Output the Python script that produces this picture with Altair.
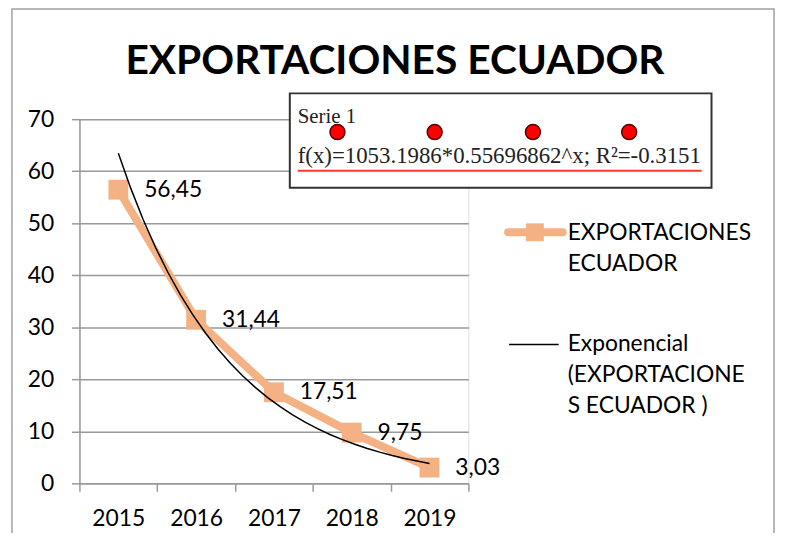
import altair as alt
import pandas as pd

# ---- data ----
years = [2015, 2016, 2017, 2018, 2019]
values = [56.45, 31.44, 17.51, 9.75, 3.03]
y_ticks = [0, 10, 20, 30, 40, 50, 60, 70]
title_text = "EXPORTACIONES ECUADOR"
series_name = "EXPORTACIONES\nECUADOR"
trend_name = "Exponencial\n(EXPORTACIONE\nS ECUADOR )"
inset_title = "Serie 1"
inset_formula = "f(x)=1053.1986*0.55696862^x; R²=-0.3151"

PEACH = "#F4B183"
GRAY = "#9a9a9a"
FONT = "Lato"
SERIF = "Liberation Serif"
FS = 23
W, H = 392, 367

df = pd.DataFrame({"year": years, "value": values})
one = pd.DataFrame({"k": [0]})

# category boundaries (ticks sit between the year categories)
bounds = [y - 0.5 for y in years] + [years[-1] + 0.5]

x_scale = alt.Scale(domain=[bounds[0], bounds[-1]], nice=False, zero=False)
x_axis = alt.Axis(title=None, values=bounds, grid=False, labelAngle=0,
                  labelExpr=f"datum.value < {years[-1]} ? format(datum.value + 0.5, 'd') : ''",
                  labelOffset=W / len(years) / 2, labelAlign="center",
                  domainColor=GRAY, domainWidth=1.5, tickColor=GRAY, tickWidth=1.5,
                  tickSize=8, labelPadding=16, labelFont=FONT, labelFontSize=FS,
                  labelColor="#000", labelFlush=False, labelOverlap=False)
y_scale = alt.Scale(domain=[0, 70], nice=False)
y_axis = alt.Axis(title=None, values=y_ticks, grid=True, gridColor=GRAY, gridWidth=1.5,
                  domainColor=GRAY, domainWidth=1.5, tickColor=GRAY, tickWidth=1.5,
                  tickSize=8, labelPadding=18, labelFont=FONT, labelFontSize=FS,
                  labelColor="#000")

# ---- main series ----
base = alt.Chart(df).encode(x=alt.X("year:Q", scale=x_scale, axis=x_axis),
                            y=alt.Y("value:Q", scale=y_scale, axis=y_axis))
line = base.mark_line(color=PEACH, strokeWidth=8, strokeJoin="round", strokeCap="round")
pts = base.mark_point(shape="square", size=400, filled=True, color=PEACH, opacity=1)
labels = base.transform_calculate(
    lab="replace(format(datum.value, '.2f'), '.', ',')"
).mark_text(align="left", baseline="middle", dx=26, font=FONT, fontSize=FS,
            color="#000").encode(text="lab:N")

# ---- exponential trend (least squares on log values) ----
trend = alt.Chart(df).transform_calculate(
    ly="log(datum.value)"
).transform_regression(
    "year", "ly", method="poly", order=1
).transform_calculate(
    fit="exp(datum.ly)"
).mark_line(color="black", strokeWidth=1.5).encode(
    x=alt.X("year:Q", scale=x_scale, axis=x_axis),
    y=alt.Y("fit:Q", scale=y_scale, axis=y_axis),
)

# ---- decorations ----
border = alt.Chart(one).mark_rect(fillOpacity=0, stroke="#a0a0a0", strokeWidth=1.5).encode(
    x=alt.value(-68), x2=alt.value(700), y=alt.value(-111), y2=alt.value(440))

title = alt.Chart(pd.DataFrame({"t": [title_text]})).mark_text(
    font=FONT, fontSize=41, fontWeight="bold", align="center", baseline="alphabetic",
    color="#000").encode(x=alt.value(318), y=alt.value(-46), text="t:N")

inset_box = alt.Chart(one).mark_rect(fill="white", stroke="#333", strokeWidth=2).encode(
    x=alt.value(212), x2=alt.value(637), y=alt.value(-26), y2=alt.value(69))
inset_t = alt.Chart(pd.DataFrame({"t": [inset_title]})).mark_text(
    font=SERIF, fontSize=21, align="left", baseline="alphabetic", color="#222").encode(
    x=alt.value(220), y=alt.value(4), text="t:N")
inset_f = alt.Chart(pd.DataFrame({"t": [inset_formula]})).mark_text(
    font=SERIF, fontSize=23, align="left", baseline="alphabetic", color="#222").encode(
    x=alt.value(220), y=alt.value(44), text="t:N")
inset_rule = alt.Chart(one).mark_rule(color="#ff3333", strokeWidth=2).encode(
    x=alt.value(220), x2=alt.value(627), y=alt.value(52))
dots = [
    alt.Chart(one).mark_point(shape="circle", size=227, filled=True, fill="#ff0000",
                              stroke="#5a0000", strokeWidth=1.5, opacity=1).encode(
        x=alt.value(px), y=alt.value(13))
    for px in (260, 358, 457, 554)
]

leg_line1 = alt.Chart(one).mark_rule(color=PEACH, strokeWidth=8, strokeCap="round").encode(
    x=alt.value(432), x2=alt.value(487), y=alt.value(114))
leg_sq = alt.Chart(one).mark_point(shape="square", size=324, filled=True, color=PEACH,
                                   opacity=1).encode(x=alt.value(459), y=alt.value(114))
leg_t1 = alt.Chart(pd.DataFrame({"t": [series_name]})).mark_text(
    font=FONT, fontSize=FS, align="left", baseline="alphabetic", lineBreak="\n",
    lineHeight=31, color="#000").encode(x=alt.value(492), y=alt.value(122), text="t:N")
leg_line2 = alt.Chart(one).mark_rule(color="black", strokeWidth=1.5).encode(
    x=alt.value(433), x2=alt.value(483), y=alt.value(227))
leg_t2 = alt.Chart(pd.DataFrame({"t": [trend_name]})).mark_text(
    font=FONT, fontSize=FS, align="left", baseline="alphabetic", lineBreak="\n",
    lineHeight=31, color="#000").encode(x=alt.value(492), y=alt.value(234), text="t:N")

chart = alt.layer(
    border, line, pts, labels, trend, inset_box, inset_t, *dots, inset_f, inset_rule,
    title, leg_line1, leg_sq, leg_t1, leg_line2, leg_t2
).properties(
    width=W, height=H,
    autosize=alt.AutoSizeParams(type="none"),
    padding={"left": 72, "top": 110, "right": 311, "bottom": 48},
).configure_view(stroke=None).configure_axisX(grid=False, gridOpacity=0).configure(
    background="white")

chart.save("out.html", embed_options={"renderer": "svg", "actions": False})
